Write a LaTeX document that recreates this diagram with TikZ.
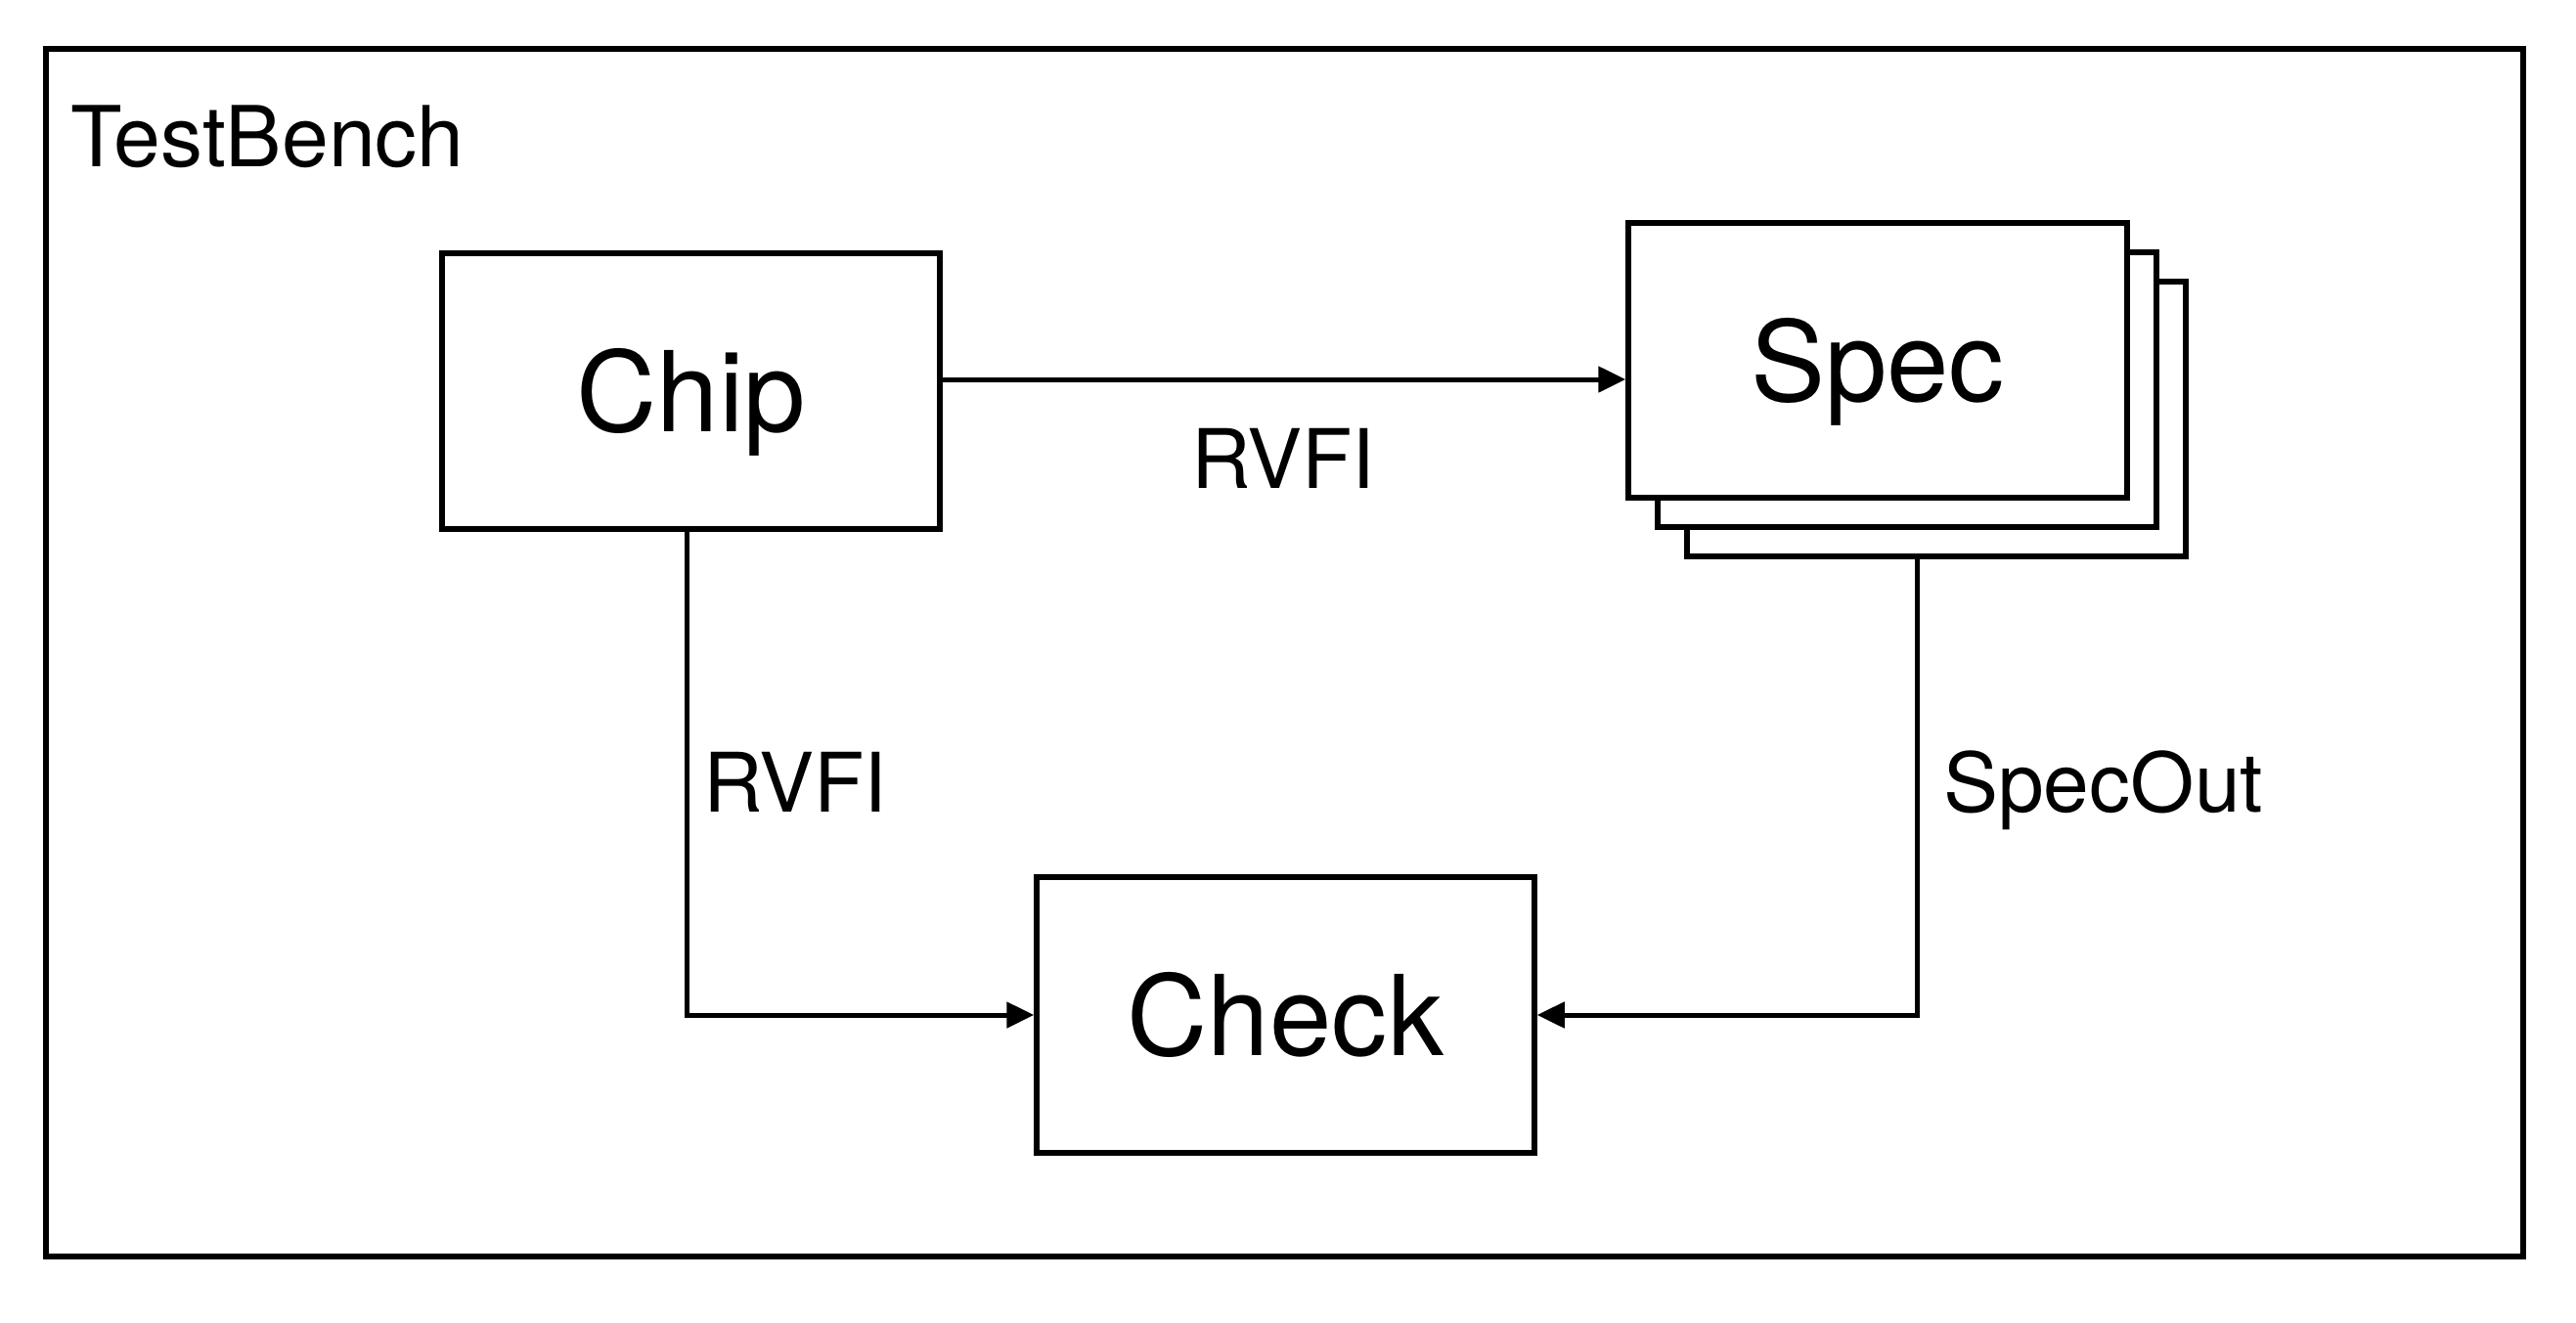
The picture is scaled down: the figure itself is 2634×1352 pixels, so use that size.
\documentclass[tikz,border=0pt]{standalone}
\usepackage{fontspec}
\setmainfont{TeX Gyre Heros}
\usetikzlibrary{arrows.meta}
\begin{document}
\begin{tikzpicture}[x=1pt,y=-1pt,
  blk/.style={draw=black,line width=5.5pt,fill=white,rectangle,inner sep=0pt,
    minimum width=509pt,minimum height=282pt,font=\fontsize{114}{130}\selectfont},
  conn/.style={draw=black,line width=5pt,-{Triangle[length=28pt,width=26pt]}},
  lbl/.style={inner sep=0pt,font=\fontsize{84}{100}\selectfont}]
\useasboundingbox (0,0) rectangle (2634,1352);
\node[draw=black,line width=6pt,rectangle,inner sep=0pt,minimum width=2533pt,minimum height=1235pt] (tb) at (1313.5,667.5) {};
\node[inner sep=0pt,anchor=base west,font=\fontsize{86}{100}\selectfont] (tbl) at (72,170) {TestBench};
% Spec stack
\node[blk,minimum width=510pt,minimum height=281pt] (spec3) at (1980,428.5) {};
\node[blk,minimum width=510pt,minimum height=281pt] (spec2) at (1950,398.5) {};
\node[blk,minimum width=510pt,minimum height=281pt] (spec1) at (1920,368.5) {};
\node[inner sep=0pt,anchor=base,font=\fontsize{114}{130}\selectfont] (spect) at (1920,410) {Spec};
% Chip
\node[blk] (chip) at (706.5,400) {};
\node[inner sep=0pt,anchor=base,font=\fontsize{114}{130}\selectfont] (chipt) at (706.5,441) {Chip};
% Check
\node[blk] (check) at (1314.5,1038) {};
\node[inner sep=0pt,anchor=base,font=\fontsize{114}{130}\selectfont] (checkt) at (1314.5,1079) {Check};
% connectors
\coordinate (r1) at ([yshift=12pt]chip.east);
\draw[conn] (r1) -- (r1 -| spec1.west);
\draw[conn] ([xshift=-4pt]chip.south) |- (check.west);
\draw[conn] ([xshift=-20pt]spec3.south) |- (check.east);
% labels
\node[lbl,anchor=base] (l1) at (1312,499) {RVFI};
\node[lbl,anchor=base west] (l2) at (719,830) {RVFI};
\node[lbl,anchor=base west] (l3) at (1987,830) {SpecOut};
\end{tikzpicture}
\end{document}
